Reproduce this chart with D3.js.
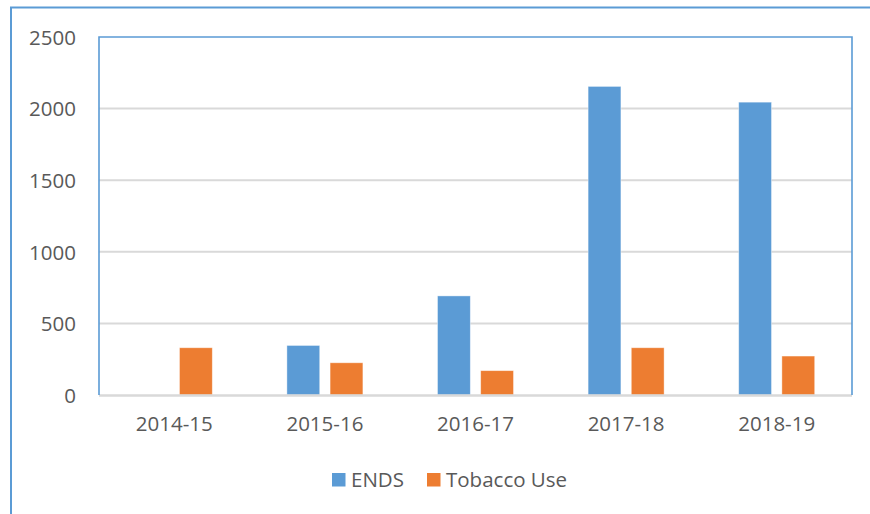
<!DOCTYPE html>
<html lang="en">
<head>
    <meta charset="UTF-8">
    <title>ENDS vs Tobacco Use</title>
    <style>
        body { margin: 0; background: #fff; }
        svg { display: block; font-family: "Open Sans", sans-serif; }
        .tick text { fill: #595959; }
    </style>
    <script src="https://d3js.org/d3.v7.min.js"></script>
</head>
<body>
    <svg width="870" height="514"></svg>
    <script>
        // data
        const years = ['2014-15', '2015-16', '2016-17', '2017-18', '2018-19'];
        const ends = [0, 346, 692, 2155, 2045];
        const tobacco = [330, 225, 170, 330, 272];
        const seriesNames = ['ENDS', 'Tobacco Use'];
        const yTicks = [0, 500, 1000, 1500, 2000, 2500];

        const colors = ['#5B9BD5', '#ED7D31'];
        const rows = years.map((yr, i) => ({ year: yr, vals: [ends[i], tobacco[i]] }));

        const svg = d3.select('svg');
        const plotLeft = 99, plotRight = 852, plotTop = 37, plotBottom = 395;

        // outer chart border (runs off the right and bottom)
        svg.append('rect')
            .attr('x', 11).attr('y', 7.5)
            .attr('width', 900).attr('height', 600)
            .attr('fill', 'none')
            .attr('stroke', '#5B9BD5')
            .attr('stroke-width', 2);

        let x = d3.scaleBand().domain(years).range([plotLeft, plotRight]);
        let x1 = d3.scaleBand().domain([0, 1]).range([0, 76]).paddingInner(0.24);
        let y = d3.scaleLinear().domain([0, 2500]).range([plotBottom, plotTop]);

        // gridlines
        svg.append('g')
            .selectAll('line')
            .data(yTicks.filter(t => t > 0 && t < 2500))
            .join('line')
            .attr('x1', plotLeft).attr('x2', plotRight)
            .attr('y1', d => y(d)).attr('y2', d => y(d))
            .attr('stroke', '#d9d9d9')
            .attr('stroke-width', 2);

        // bars
        const groups = svg.append('g')
            .selectAll('g')
            .data(rows)
            .join('g')
            .attr('transform', d => `translate(${x(d.year) + x.bandwidth() / 2 - 38},0)`);

        groups.selectAll('rect')
            .data(d => d.vals.map((v, k) => ({ v, k })).filter(d => d.v > 0))
            .join('rect')
            .attr('x', d => x1(d.k))
            .attr('width', x1.bandwidth())
            .attr('y', d => y(d.v))
            .attr('height', d => y(0) - y(d.v))
            .attr('fill', d => colors[d.k])
            .attr('stroke', '#fff')
            .attr('stroke-opacity', 0.5)
            .attr('stroke-width', 0.8);

        // baseline
        svg.append('line')
            .attr('x1', plotLeft).attr('x2', plotRight)
            .attr('y1', plotBottom + 0.5).attr('y2', plotBottom + 0.5)
            .attr('stroke', '#d9d9d9')
            .attr('stroke-width', 2.5);

        // plot area border (left, top, right)
        svg.append('path')
            .attr('d', `M${plotLeft},${plotBottom} V${plotTop} H${plotRight} V${plotBottom}`)
            .attr('fill', 'none')
            .attr('stroke', '#5B9BD5')
            .attr('stroke-width', 1.6);

        // y axis
        const yAxis = svg.append('g')
            .attr('transform', `translate(${plotLeft},0)`)
            .call(d3.axisLeft(y).tickValues(yTicks).tickFormat(d3.format('d')).tickSize(0).tickPadding(23))
            .attr('font-family', null);
        yAxis.select('.domain').remove();
        yAxis.selectAll('text').attr('font-size', 20.5).attr('dy', '0.36em');

        // x axis
        const xAxis = svg.append('g')
            .attr('transform', `translate(0,${plotBottom})`)
            .call(d3.axisBottom(x).tickSize(0).tickPadding(21))
            .attr('font-family', null);
        xAxis.select('.domain').remove();
        xAxis.selectAll('text').attr('font-size', 20.5);

        // legend
        const legendPos = [332, 427];
        const legend = svg.append('g')
            .selectAll('g')
            .data(seriesNames)
            .join('g')
            .attr('transform', (d, i) => `translate(${legendPos[i]},473)`);
        legend.append('rect')
            .attr('width', 13.5).attr('height', 13.5)
            .attr('fill', (d, i) => colors[i]);
        legend.append('text')
            .attr('x', 19).attr('y', 7)
            .attr('dy', '0.36em')
            .attr('font-size', 20.5)
            .attr('fill', '#595959')
            .text(d => d);
    </script>
</body>
</html>
